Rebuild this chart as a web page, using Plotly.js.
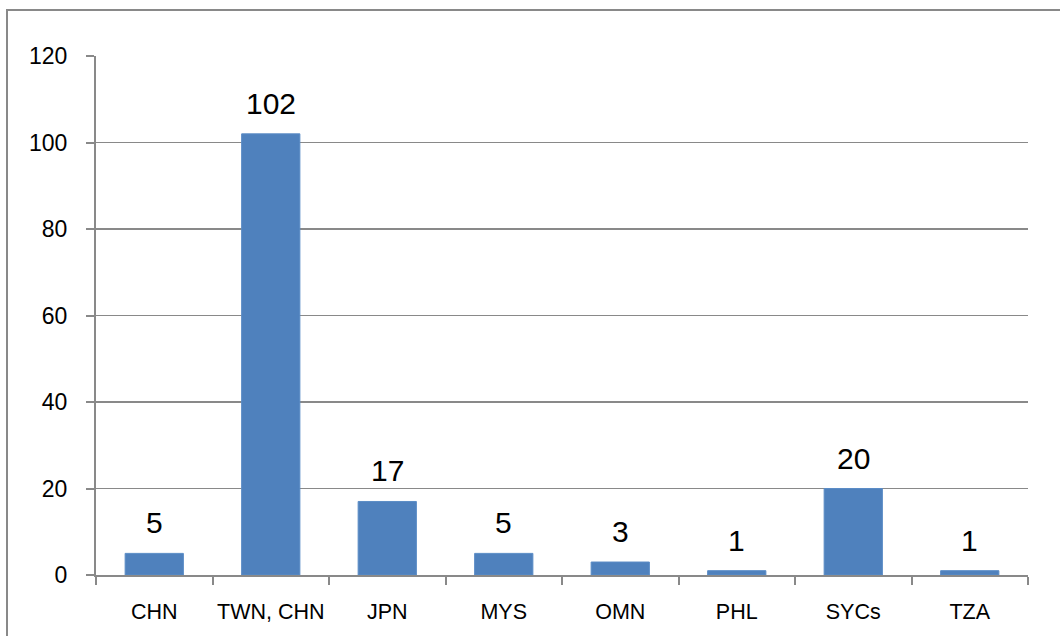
<!DOCTYPE html>
<html>
<head>
<meta charset="utf-8">
<script src="https://cdn.plot.ly/plotly-3.0.1.min.js"></script>
<style>html,body{margin:0;padding:0;background:#fff;overflow:hidden}#chart{width:1060px;height:636px}</style>
</head>
<body>
<div id="chart"></div>
<script>
const categories = ["CHN", "TWN, CHN", "JPN", "MYS", "OMN", "PHL", "SYCs", "TZA"];
const values = [5, 102, 17, 5, 3, 1, 20, 1];
const yTicks = [0, 20, 40, 60, 80, 100, 120];

const FONT = "Liberation Sans, Arial, sans-serif";
const GRAY = "#898989";

const trace = {
  type: "bar",
  x: categories,
  y: values,
  marker: {color: "#4F81BD", line: {color: "#5B8CC6", width: 1}},
  hoverinfo: "x+y"
};

const annotations = categories.map((c, i) => ({
  x: c, y: values[i], xref: "x", yref: "y",
  text: String(values[i]), showarrow: false,
  yanchor: "bottom", yshift: 12,
  font: {family: FONT, size: 30, color: "#000"}
}));

const layout = {
  width: 1060, height: 636,
  margin: {l: 96, r: 32, t: 56, b: 61},
  paper_bgcolor: "#fff", plot_bgcolor: "#fff",
  bargap: 0.5,
  showlegend: false,
  font: {family: FONT, size: 21, color: "#000"},
  xaxis: {
    type: "category",
    showline: true, linecolor: GRAY, linewidth: 2,
    ticks: "outside", tickson: "boundaries", ticklen: 8, tickwidth: 2, tickcolor: GRAY,
    showgrid: false, zeroline: false,
    tickangle: 0,
    ticklabelstandoff: 16,
    tickfont: {family: FONT, size: 21.5, color: "#000"}
  },
  yaxis: {
    range: [0, 120], tickvals: yTicks, ticktext: yTicks.map(String),
    showline: true, linecolor: GRAY, linewidth: 2,
    ticks: "outside", ticklen: 8, tickwidth: 2, tickcolor: GRAY,
    showgrid: true, gridcolor: GRAY, gridwidth: 1.5,
    zeroline: false,
    ticklabelstandoff: 14,
    tickfont: {family: FONT, size: 23, color: "#000"}
  },
  annotations: annotations,
  shapes: [{
    type: "rect", xref: "paper", yref: "paper",
    x0: (7 - 96) / 932, x1: (1075 - 96) / 932,
    y0: (575 - 650) / 519, y1: (575 - 10) / 519,
    line: {color: GRAY, width: 2}, fillcolor: "rgba(0,0,0,0)", layer: "below"
  }]
};

Plotly.newPlot("chart", [trace], layout, {displayModeBar: false, staticPlot: true});
</script>
</body>
</html>
